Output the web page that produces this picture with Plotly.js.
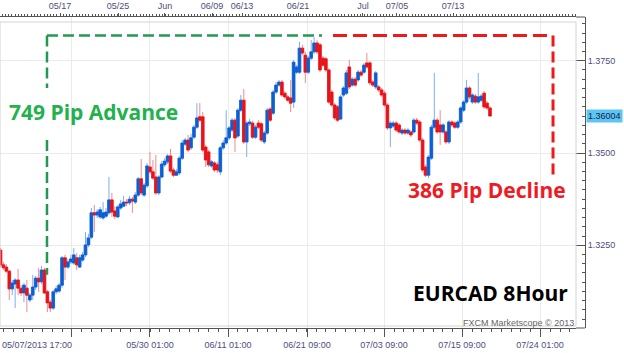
<!DOCTYPE html>
<html><head><meta charset="utf-8">
<script src="https://cdn.plot.ly/plotly-3.0.1.min.js"></script>
<style>html,body{margin:0;padding:0;background:#fff}#chart{width:624px;height:353px}</style>
</head><body><div id="chart"></div>
<script>
// EURCAD 8-hour candles
const opens = [
1.3237,1.3197,1.3191,1.3180,1.3132,1.3145,1.3156,1.3134,1.3121,1.3134,
1.3102,1.3115,1.3137,1.3161,1.3151,1.3183,1.3124,1.3096,1.3080,1.3124,
1.3126,1.3142,1.3216,1.3191,1.3205,1.3202,1.3216,1.3191,1.3210,1.3224,
1.3251,1.3272,1.3338,1.3332,1.3327,1.3324,1.3329,1.3338,1.3373,1.3343,
1.3327,1.3351,1.3356,1.3367,1.3365,1.3375,1.3367,1.3386,1.3430,1.3386,
1.3411,1.3462,1.3449,1.3435,1.3392,1.3435,1.3468,1.3476,1.3492,1.3454,
1.3440,1.3446,1.3486,1.3524,1.3535,1.3514,1.3543,1.3570,1.3598,1.3598,
1.3516,1.3503,1.3465,1.3473,1.3468,1.3449,1.3514,1.3527,1.3541,1.3562,
1.3589,1.3546,1.3616,1.3643,1.3530,1.3579,1.3581,1.3543,1.3581,1.3579,
1.3530,1.3554,1.3619,1.3608,1.3665,1.3684,1.3692,1.3662,1.3652,1.3649,
1.3638,1.3719,1.3719,1.3784,1.3765,1.3719,1.3757,1.3774,1.3798,1.3793,
1.3757,1.3755,1.3725,1.3665,1.3630,1.3625,1.3592,1.3657,1.3662,1.3733,
1.3684,1.3700,1.3698,1.3719,1.3719,1.3744,1.3744,1.3692,1.3679,1.3679,
1.3671,1.3662,1.3630,1.3568,1.3573,1.3581,1.3576,1.3554,1.3562,1.3554,
1.3557,1.3557,1.3589,1.3584,1.3535,1.3462,1.3440,1.3486,1.3570,1.3589,
1.3576,1.3557,1.3557,1.3530,1.3584,1.3581,1.3570,1.3584,1.3616,1.3638,
1.3676,1.3638,1.3654,1.3638,1.3643,1.3662,1.3635,1.3622];
const highs = [
1.3243,1.3205,1.3199,1.3183,1.3156,1.3161,1.3186,1.3142,1.3148,1.3156,
1.3121,1.3170,1.3167,1.3189,1.3194,1.3189,1.3129,1.3102,1.3129,1.3140,
1.3148,1.3221,1.3224,1.3213,1.3224,1.3243,1.3229,1.3224,1.3232,1.3286,
1.3281,1.3351,1.3359,1.3348,1.3354,1.3367,1.3351,1.3435,1.3392,1.3356,
1.3359,1.3373,1.3384,1.3375,1.3384,1.3381,1.3394,1.3435,1.3484,1.3419,
1.3473,1.3503,1.3481,1.3495,1.3440,1.3478,1.3486,1.3497,1.3511,1.3460,
1.3457,1.3492,1.3535,1.3541,1.3549,1.3552,1.3576,1.3635,1.3635,1.3611,
1.3522,1.3508,1.3481,1.3478,1.3476,1.3519,1.3535,1.3616,1.3573,1.3595,
1.3595,1.3622,1.3657,1.3673,1.3587,1.3592,1.3587,1.3576,1.3589,1.3584,
1.3560,1.3622,1.3624,1.3671,1.3692,1.3698,1.3698,1.3668,1.3657,1.3698,
1.3752,1.3738,1.3801,1.3793,1.3774,1.3763,1.3806,1.3814,1.3806,1.3798,
1.3763,1.3760,1.3730,1.3671,1.3635,1.3630,1.3657,1.3681,1.3725,1.3752,
1.3706,1.3706,1.3725,1.3725,1.3744,1.3771,1.3749,1.3698,1.3722,1.3684,
1.3676,1.3668,1.3635,1.3587,1.3587,1.3587,1.3581,1.3568,1.3568,1.3568,
1.3562,1.3595,1.3595,1.3589,1.3541,1.3468,1.3495,1.3576,1.3717,1.3595,
1.3616,1.3581,1.3562,1.3589,1.3589,1.3587,1.3589,1.3627,1.3643,1.3698,
1.3681,1.3662,1.3660,1.3717,1.3660,1.3668,1.3641,1.3627];
const lows = [
1.3191,1.3183,1.3175,1.3102,1.3115,1.3080,1.3115,1.3113,1.3096,1.3069,
1.3096,1.3102,1.3129,1.3124,1.3145,1.3118,1.3069,1.3069,1.3075,1.3118,
1.3121,1.3134,1.3156,1.3186,1.3199,1.3197,1.3183,1.3189,1.3205,1.3218,
1.3245,1.3267,1.3286,1.3324,1.3321,1.3319,1.3324,1.3332,1.3327,1.3321,
1.3324,1.3346,1.3354,1.3356,1.3359,1.3338,1.3362,1.3381,1.3386,1.3381,
1.3405,1.3443,1.3427,1.3386,1.3386,1.3432,1.3462,1.3470,1.3446,1.3435,
1.3438,1.3440,1.3481,1.3519,1.3503,1.3508,1.3538,1.3565,1.3584,1.3503,
1.3462,1.3462,1.3460,1.3449,1.3446,1.3440,1.3508,1.3522,1.3535,1.3557,
1.3503,1.3541,1.3611,1.3524,1.3489,1.3573,1.3538,1.3538,1.3565,1.3530,
1.3524,1.3549,1.3584,1.3603,1.3660,1.3679,1.3652,1.3646,1.3638,1.3611,
1.3622,1.3714,1.3714,1.3765,1.3690,1.3714,1.3752,1.3768,1.3768,1.3719,
1.3733,1.3719,1.3633,1.3625,1.3589,1.3584,1.3589,1.3652,1.3657,1.3673,
1.3679,1.3679,1.3692,1.3706,1.3714,1.3728,1.3684,1.3679,1.3673,1.3665,
1.3652,1.3625,1.3562,1.3516,1.3568,1.3557,1.3552,1.3549,1.3549,1.3549,
1.3543,1.3552,1.3576,1.3530,1.3449,1.3435,1.3432,1.3481,1.3565,1.3552,
1.3522,1.3552,1.3524,1.3524,1.3570,1.3565,1.3565,1.3579,1.3611,1.3633,
1.3646,1.3633,1.3633,1.3633,1.3638,1.3619,1.3616,1.3598];
const closes = [
1.3197,1.3189,1.3180,1.3132,1.3148,1.3156,1.3134,1.3121,1.3142,1.3115,
1.3115,1.3137,1.3161,1.3151,1.3183,1.3121,1.3094,1.3080,1.3124,1.3132,
1.3142,1.3216,1.3191,1.3205,1.3213,1.3224,1.3197,1.3216,1.3224,1.3251,
1.3270,1.3338,1.3332,1.3340,1.3346,1.3338,1.3340,1.3373,1.3340,1.3329,
1.3354,1.3362,1.3367,1.3365,1.3375,1.3370,1.3386,1.3430,1.3392,1.3413,
1.3465,1.3449,1.3432,1.3392,1.3435,1.3470,1.3478,1.3492,1.3451,1.3440,
1.3449,1.3486,1.3527,1.3535,1.3508,1.3541,1.3570,1.3595,1.3589,1.3508,
1.3481,1.3468,1.3476,1.3454,1.3454,1.3514,1.3527,1.3541,1.3568,1.3589,
1.3541,1.3616,1.3643,1.3530,1.3581,1.3584,1.3543,1.3570,1.3570,1.3535,
1.3554,1.3616,1.3589,1.3665,1.3684,1.3692,1.3657,1.3652,1.3643,1.3635,
1.3746,1.3733,1.3784,1.3771,1.3719,1.3757,1.3774,1.3798,1.3774,1.3725,
1.3738,1.3725,1.3638,1.3630,1.3595,1.3589,1.3652,1.3676,1.3717,1.3679,
1.3700,1.3684,1.3719,1.3711,1.3738,1.3733,1.3690,1.3684,1.3717,1.3671,
1.3657,1.3630,1.3568,1.3581,1.3581,1.3562,1.3557,1.3562,1.3554,1.3562,
1.3549,1.3589,1.3581,1.3535,1.3454,1.3440,1.3489,1.3570,1.3589,1.3557,
1.3557,1.3576,1.3530,1.3584,1.3576,1.3570,1.3584,1.3622,1.3638,1.3676,
1.3652,1.3657,1.3638,1.3652,1.3654,1.3625,1.3622,1.36004];

// axis labels
const bottomTickLabels = ['', '05/30 01:00', '06/11 01:00', '06/21 09:00', '07/03 09:00', '07/15 09:00', '07/24 01:00'];
const bottomTickPos = [24.39, 51.0, 77.62, 104.57, 130.84, 157.45, 184.06];
const startLabel = '05/07/2013 17:00';
const topTickLabels = ['05/17', '05/25', 'Jun', '06/09', '06/13', '06/21', 'Jul', '07/05', '07/13'];
const topTickPos = [20.30, 40.09, 56.12, 72.16, 82.39, 101.50, 123.67, 135.27, 154.38];
const priceTicks = [1.3250, 1.3500, 1.3750];
const priceTickText = ['1.3250', '1.3500', '1.3750'];
const lastPriceText = '1.36004';

// guide-line anchors (annotation geometry)
const advanceX = 15.86, advanceTop = 1.3818, advanceBottom = 1.3170;
const gapTop = 1.3676, gapBottom = 1.3535;
const advanceEndX = 109.7, declineStartX = 113.44, declineEndX = 186.8, declineX = 188.5, declineBottom = 1.3440;

const idx = closes.map((_, i) => i);
const bodyHigh = closes.map((c, i) => Math.max(c, opens[i]));
const bodyLow = closes.map((c, i) => Math.min(c, opens[i]));

const BLUE = '#0b5fd3', RED = '#e8121a', LBLUE = '#80aeea', LRED = '#f28a8a';
const XR = [-0.17, 196.34];
const tickFont = {family: 'Liberation Sans, Arial, sans-serif', size: 9, color: '#4d4d80'};
const axisCol = '#555555';

const traces = [
  {type: 'candlestick', x: idx, open: opens, high: highs, low: lows, close: closes,
   increasing: {line: {color: LBLUE, width: 1}, fillcolor: LBLUE},
   decreasing: {line: {color: LRED, width: 1}, fillcolor: LRED},
   whiskerwidth: 0, showlegend: false, hoverinfo: 'skip'},
  {type: 'candlestick', x: idx, open: opens, high: bodyHigh, low: bodyLow, close: closes,
   increasing: {line: {color: BLUE, width: 0.7}, fillcolor: BLUE},
   decreasing: {line: {color: RED, width: 0.7}, fillcolor: RED},
   whiskerwidth: 0, showlegend: false, hoverinfo: 'skip'},
  {type: 'scatter', x: [], y: [], xaxis: 'x2', yaxis: 'y', showlegend: false, hoverinfo: 'skip'}
];

const green = '#23994f', red = '#f01818';
const layout = {
  width: 624, height: 353,
  margin: {l: 0, r: 39, t: 17, b: 25, pad: 0},
  paper_bgcolor: '#ffffff', plot_bgcolor: '#ffffff',
  showlegend: false, hovermode: false,
  boxgap: 0.12, boxgroupgap: 0,
  font: {family: 'Liberation Sans, Arial, sans-serif', size: 9, color: '#4d4d80'},
  xaxis: {
    domain: [0, 576/585], range: XR, anchor: 'y',
    rangeslider: {visible: false},
    tickmode: 'array', tickvals: bottomTickPos, ticktext: bottomTickLabels,
    ticks: 'outside', ticklen: 8, tickcolor: axisCol, tickwidth: 1,
    showline: true, linecolor: axisCol, linewidth: 1,
    showgrid: true, gridcolor: '#ebebeb', gridwidth: 1, zeroline: false,
    tickfont: tickFont, fixedrange: true,
    minor: {tickmode: 'linear', tick0: 24.39, dtick: 3.33, ticks: 'outside', ticklen: 3, tickcolor: axisCol, showgrid: false}
  },
  xaxis2: {
    overlaying: 'x', side: 'top', anchor: 'y', range: XR,
    tickmode: 'array', tickvals: topTickPos, ticktext: topTickLabels,
    ticks: 'outside', ticklen: 3, tickcolor: axisCol,
    showline: true, linecolor: axisCol, linewidth: 1,
    showgrid: false, zeroline: false, tickfont: tickFont, fixedrange: true,
    minor: {tickmode: 'linear', tick0: 20.30, dtick: 1.092, ticks: 'outside', ticklen: 2, tickcolor: axisCol, showgrid: false}
  },
  yaxis: {
    domain: [0, 1], range: [1.30260, 1.38684], side: 'right', anchor: 'free', position: 1,
    tickmode: 'array', tickvals: priceTicks, ticktext: priceTickText,
    ticks: 'inside', ticklen: 9, tickcolor: axisCol,
    showline: true, linecolor: axisCol, linewidth: 1,
    showgrid: true, gridcolor: '#ebebeb', zeroline: false,
    tickfont: tickFont, fixedrange: true,
    minor: {tickmode: 'linear', tick0: 1.3250, dtick: 0.0025, ticks: 'inside', ticklen: 3, tickcolor: axisCol, showgrid: false}
  },
  shapes: [
    {type: 'rect', xref: 'paper', yref: 'paper', x0: 0, x1: 576/585, y0: 2/311, y1: 306/311,
     line: {color: '#d4d4d4', width: 1}, fillcolor: 'rgba(0,0,0,0)', layer: 'above'},
    {type: 'line', xref: 'paper', yref: 'paper', x0: 576/585, x1: 1, y0: 0, y1: 0, line: {color: axisCol, width: 1}},
    {type: 'line', xref: 'paper', yref: 'paper', x0: 576/585, x1: 1, y0: 1, y1: 1, line: {color: axisCol, width: 1}},
    {type: 'line', xref: 'x', yref: 'y', x0: advanceX, x1: advanceEndX, y0: advanceTop, y1: advanceTop,
     line: {color: green, width: 2.5, dash: '11px,5px'}},
    {type: 'line', xref: 'x', yref: 'y', x0: advanceX, x1: advanceX, y0: advanceTop, y1: gapTop,
     line: {color: green, width: 2.5, dash: '11px,5px'}},
    {type: 'line', xref: 'x', yref: 'y', x0: advanceX, x1: advanceX, y0: gapBottom, y1: advanceBottom,
     line: {color: green, width: 2.5, dash: '11px,5px'}},
    {type: 'line', xref: 'x', yref: 'y', x0: declineStartX, x1: declineEndX, y0: advanceTop, y1: advanceTop,
     line: {color: red, width: 3, dash: '14px,6px'}},
    {type: 'line', xref: 'x', yref: 'y', x0: declineX, x1: declineX, y0: advanceTop, y1: declineBottom,
     line: {color: red, width: 3, dash: '11px,5px'}}
  ],
  annotations: [
    {text: '749 Pip Advance', xref: 'paper', yref: 'paper', x: 7/585, y: (328-112)/311, xanchor: 'left', yanchor: 'middle',
     showarrow: false, font: {family: 'Open Sans', size: 21, weight: 'bold', color: '#22b14c'}},
    {text: '386 Pip Decline', xref: 'paper', yref: 'paper', x: 406/585, y: (328-190)/311, xanchor: 'left', yanchor: 'middle',
     showarrow: false, font: {family: 'Open Sans', size: 21, weight: 'bold', color: '#ed1c24'}},
    {text: 'EURCAD 8Hour', xref: 'paper', yref: 'paper', x: 411/585, y: (328-293)/311, xanchor: 'left', yanchor: 'middle',
     showarrow: false, font: {family: 'Open Sans', size: 21, weight: 'bold', color: '#000000'}},
    {text: 'FXCM Marketscope © 2013', xref: 'paper', yref: 'paper', x: 576/585, y: (328-323)/311, xanchor: 'right', yanchor: 'middle',
     showarrow: false, font: {family: 'Liberation Sans, Arial, sans-serif', size: 9, color: '#666666'}},
    {text: startLabel, xref: 'paper', yref: 'paper', x: 0, y: 0, xanchor: 'left', yanchor: 'top', yshift: -10,
     showarrow: false, font: tickFont},
    {text: lastPriceText, xref: 'paper', yref: 'y', x: 1, y: closes[closes.length - 1], xanchor: 'left', yanchor: 'middle', xshift: 1,
     showarrow: false, bgcolor: '#5cc6f2', borderpad: 1, font: {family: 'Liberation Sans, Arial, sans-serif', size: 9, color: '#1a1a50'}}
  ]
};

Plotly.newPlot('chart', traces, layout, {staticPlot: true, displayModeBar: false});
</script>
</body></html>
